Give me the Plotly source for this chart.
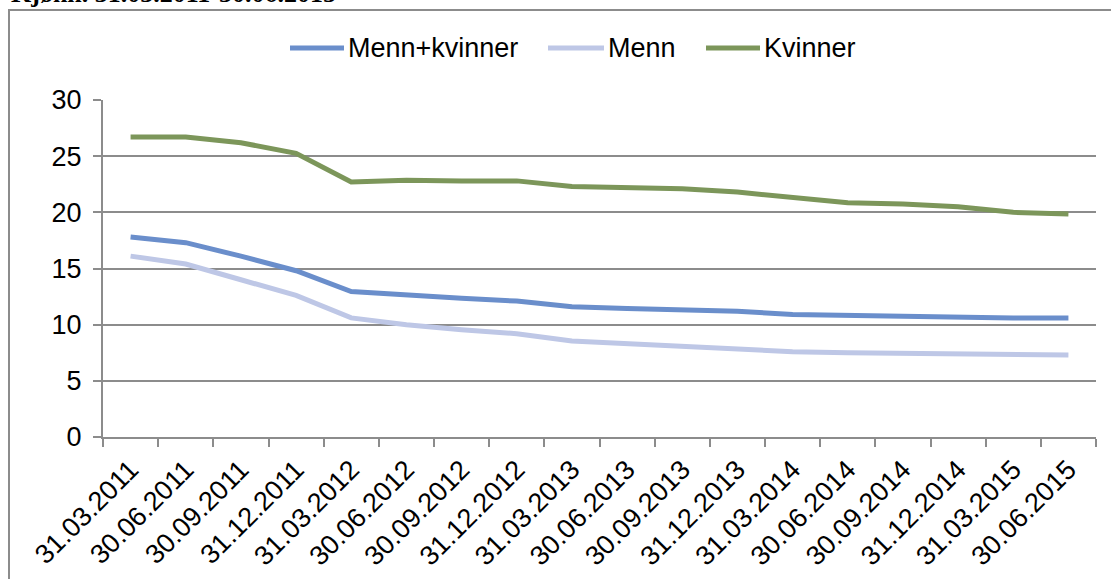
import plotly.graph_objects as go

categories = ["31.03.2011", "30.06.2011", "30.09.2011", "31.12.2011",
              "31.03.2012", "30.06.2012", "30.09.2012", "31.12.2012",
              "31.03.2013", "30.06.2013", "30.09.2013", "31.12.2013",
              "31.03.2014", "30.06.2014", "30.09.2014", "31.12.2014",
              "31.03.2015", "30.06.2015"]

menn_kvinner = [17.8, 17.3, 16.1, 14.8, 12.95, 12.6, 12.35, 12.1,
                11.6, 11.45, 11.3, 11.2, 10.9, 10.8, 10.75, 10.7, 10.6, 10.6]
menn = [16.1, 15.4, 14.0, 12.6, 10.6, 10.0, 9.55, 9.2,
        8.55, 8.3, 8.05, 7.85, 7.6, 7.5, 7.45, 7.4, 7.4, 7.3]
kvinner = [26.7, 26.7, 26.2, 25.25, 22.7, 22.85, 22.8, 22.8,
           22.3, 22.2, 22.1, 21.8, 21.3, 20.85, 20.75, 20.5, 20.0, 19.85]

series_names = ["Menn+kvinner", "Menn", "Kvinner"]
series_values = [menn_kvinner, menn, kvinner]
series_colors = ["#6A8ECB", "#BEC7E6", "#7C965A"]

title_text = "Kjønn. 31.03.2011-30.06.2015"

fig = go.Figure()
for name, vals, col in zip(series_names, series_values, series_colors):
    fig.add_trace(go.Scatter(x=categories, y=vals, name=name, mode="lines",
                             line=dict(color=col, width=5), showlegend=False))

W, H = 1111, 579
L, R, T, B = 103, 15, 100, 142
pw, ph = W - L - R, H - T - B

def px_x(p):
    return (p - L) / pw

def px_y(p):
    return (H - B - p) / ph

font = dict(family="Liberation Sans, Arial, sans-serif", size=27, color="#000000")
grey = "#8C8C8C"

shapes = [dict(type="rect", xref="paper", yref="paper",
               x0=px_x(9), x1=px_x(1125), y0=px_y(600), y1=px_y(10),
               line=dict(color=grey, width=2), fillcolor="rgba(0,0,0,0)",
               layer="below")]
annotations = [dict(text="<b>" + title_text + "</b>", xref="paper", yref="paper",
                    x=px_x(9), y=px_y(10), xanchor="left", yanchor="bottom",
                    showarrow=False,
                    font=dict(family="Liberation Serif, Times New Roman, serif",
                              size=26, color="#000000"))]

# manual legend (line sample + label)
legend_line_x = [(290, 344), (548, 604), (706, 760)]
legend_y = 48
for (x0, x1), name, col in zip(legend_line_x, series_names, series_colors):
    shapes.append(dict(type="line", xref="paper", yref="paper",
                       x0=px_x(x0), x1=px_x(x1), y0=px_y(legend_y), y1=px_y(legend_y),
                       line=dict(color=col, width=5)))
    annotations.append(dict(text=name, xref="paper", yref="paper",
                            x=px_x(x1 + 2), y=px_y(legend_y), xanchor="left",
                            yanchor="middle", showarrow=False, font=font))

fig.update_layout(
    width=W, height=H,
    margin=dict(l=L, r=R, t=T, b=B, autoexpand=False),
    paper_bgcolor="white", plot_bgcolor="white",
    font=font,
    showlegend=False,
    xaxis=dict(type="category", tickangle=-45, tickson="boundaries",
               ticks="outside", ticklen=8, tickcolor=grey, tickwidth=2,
               showline=True, linecolor=grey, linewidth=2,
               showgrid=False, tickfont=font, range=[-0.5, 17.5],
               ticklabelstandoff=4),
    yaxis=dict(range=[0, 30], dtick=5, ticks="outside", ticklen=8,
               tickcolor=grey, tickwidth=2, showline=True, linecolor=grey,
               linewidth=2, showgrid=True, gridcolor=grey, gridwidth=2,
               zeroline=False, tickfont=font, ticklabelstandoff=6),
    shapes=shapes,
    annotations=annotations,
)

fig.write_html("out.html", config={"displayModeBar": False},
               post_script="document.body.style.margin='0';")
